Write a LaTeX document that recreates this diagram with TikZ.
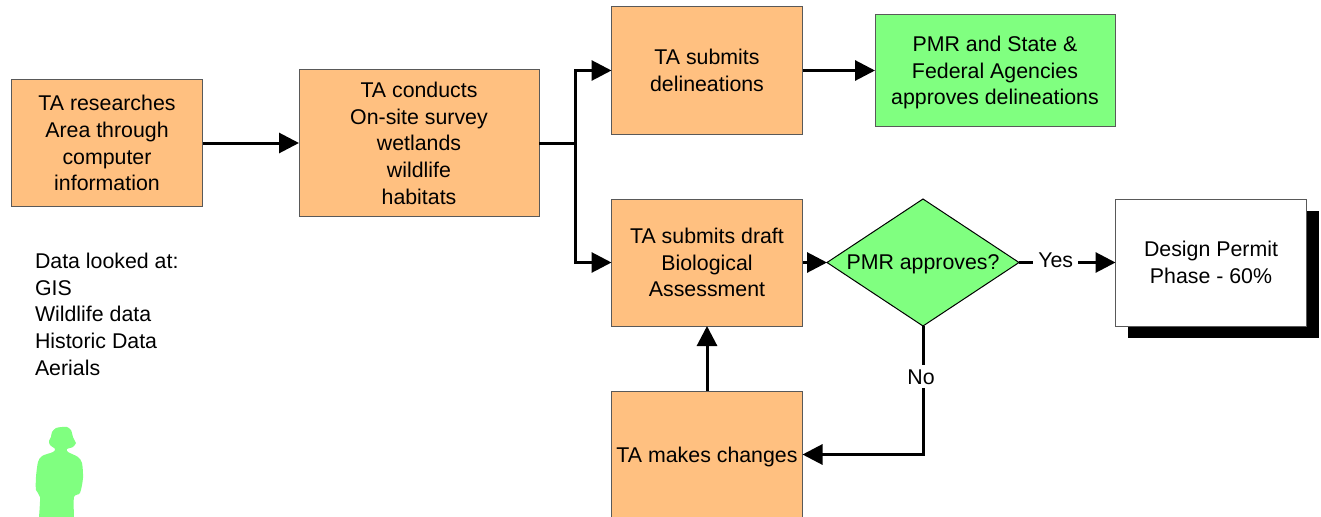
\documentclass[tikz,border=0pt]{standalone}
\usepackage{fontspec}
\setmainfont{Liberation Sans}
\usetikzlibrary{arrows.meta,shapes.geometric,shadows}
\definecolor{taorange}{HTML}{FFC080}
\definecolor{pmrgreen}{HTML}{80FF80}
\tikzset{
  every node/.style={font=\fontsize{16}{20}\selectfont, align=center, inner sep=0pt, outer sep=0pt},
  tabox/.style={draw=black!65, line width=.75pt, fill=taorange, minimum width=143.25pt, minimum height=95.25pt, text depth=-2pt},
  pmrbox/.style={draw=black!65, line width=.75pt, fill=pmrgreen, minimum width=180pt, minimum height=83.25pt, text depth=-1.5pt},
  link/.style={line width=2.25pt, -{Triangle[length=15pt,width=15pt]}},
  plainlink/.style={line width=2.25pt},
  edgelabel/.style={fill=white, inner ysep=3pt, inner xsep=3pt}
}
\begin{document}
\begin{tikzpicture}[x=.75pt,y=-.75pt]
  \useasboundingbox (0,0) rectangle (1321,517);
  \node[tabox] (research) at (107,143) {TA researches\\Area through\\computer\\information};
  \node[tabox, minimum width=180pt, minimum height=110.25pt] (survey) at (419,143)
    {TA conducts\\On-site survey\\wetlands\\wildlife\\habitats};
  \node[tabox] (delin) at (707,70.5) {TA submits\\delineations};
  \node[pmrbox] (agencies) at (995,70.5) {PMR and State \&\\Federal Agencies\\approves delineations};
  \node[tabox] (draft) at (707,262.5) {TA submits draft\\Biological\\Assessment};
  \node[diamond, draw=black, line width=.75pt, fill=pmrgreen, aspect=1.51, minimum width=144pt, minimum height=95.25pt, text depth=-1.1pt] (approve) at (923,262.5) {PMR approves?};
  \node[draw=black!65, line width=.75pt, fill=white, minimum width=143.25pt, minimum height=95.25pt, text depth=-3pt,
    drop shadow={shadow xshift=9pt, shadow yshift=-9pt, opacity=1, fill=black}] (design) at (1211,262.5) {Design Permit\\Phase - 60\%};
  \node[tabox, text depth=-1.1pt] (changes) at (707,454.5) {TA makes changes};
  \node[align=left, anchor=north west] (data) at (35,253) {Data looked at:\\GIS\\Wildlife data\\Historic Data\\Aerials};
  \coordinate (split) at (575,143);
  \draw[link] (research) -- (survey);
  \draw[plainlink] (survey.east |- split) -- (split);
  \draw[link] (split) |- (delin.west);
  \draw[link] (split) |- (draft.west);
  \draw[link] (delin) -- (agencies);
  \draw[link] (draft) -- (approve);
  \draw[link] (approve) -- node[edgelabel, pos=.38, inner xsep=4pt, yshift=1.5pt] {Yes} (design);
  \draw[link] (approve) |- node[edgelabel, pos=.198, xshift=-1.5pt] {No} (changes);
  \draw[link] (changes) -- (draft);
  \fill[pmrgreen] plot[smooth, tension=.45] coordinates {
    (39,517) (40,497) (36,490) (36,477) (38,462) (42,456) (53,452) (55,449)
    (50,445) (49,441) (51,437) (52,432) (56,428) (62,427) (67,427) (71,430) (73,437)
    (75,441) (76,443) (73,447) (67,449) (68,452) (78,457) (82,463) (83,478) (80,493)
    (74,497) (74,517)} -- cycle;
\end{tikzpicture}
\end{document}
